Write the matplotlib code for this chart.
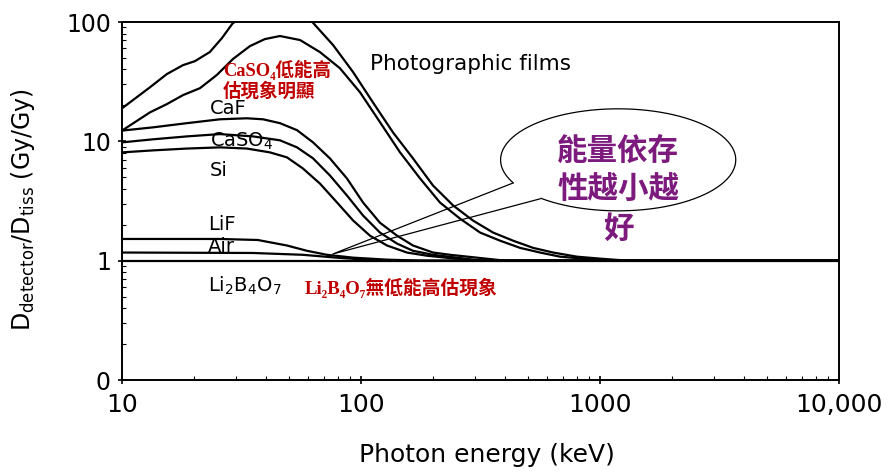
import numpy as np
import matplotlib
matplotlib.use("Agg")
import matplotlib.pyplot as plt
from matplotlib.ticker import FixedLocator, LogLocator, NullFormatter

# values (photon energy in keV, dose ratio)
films_e = [10, 13.1, 15.4, 18, 20.2, 23.3, 26.2, 29.1, 35, 45, 55, 62, 76.4, 92.7, 112, 136, 165, 200,
           243, 294, 357, 433, 525, 636, 801, 1000, 1300, 10000]
films_v = [18.9, 28.4, 36.6, 43.5, 47.0, 56.0, 73.4, 98, 118, 128, 120, 102, 64.1, 38.0, 21.3, 11.9, 7.2, 4.27,
           2.90, 2.17, 1.72, 1.47, 1.28, 1.17, 1.08, 1.04, 1.0, 1.0]

film2_e = [10, 13.1, 15.4, 18, 21.2, 24.9, 29.1, 34.3, 39.6, 45.8, 55.6, 67.3, 81.6, 99, 120, 145.6, 176.6,
           214, 259.6, 315, 382, 463, 561, 681, 849, 1100, 10000]
film2_v = [12.3, 17.5, 20.5, 24.4, 27.9, 35.9, 48.9, 62.8, 71.9, 76.3, 70.6, 56.0, 41.0, 25.8, 14.5, 8.09, 4.89,
           3.07, 2.25, 1.72, 1.47, 1.28, 1.17, 1.08, 1.04, 1.0, 1.0]

caf_e = [10, 13.5, 18.7, 25.7, 33.3, 38.9, 45.8, 54, 63, 74.1, 87.3, 102, 120, 141.5, 165, 200, 236, 400, 10000]
caf_v = [12.3, 13.1, 14.2, 15.3, 15.6, 15.3, 14.2, 12.4, 9.8, 7.2, 4.89, 3.07, 2.08, 1.62, 1.34, 1.17, 1.12, 1.0, 1.0]

caso4_e = [10, 13.5, 18.7, 25.7, 35.3, 45.8, 54, 63, 74.1, 87.3, 102, 120, 141.5, 165, 200, 320, 10000]
caso4_v = [9.8, 10.4, 11.0, 11.5, 11.0, 10.2, 8.9, 7.2, 5.18, 3.52, 2.39, 1.72, 1.39, 1.21, 1.12, 1.0, 1.0]

si_e = [10, 13.5, 18.7, 25.7, 33.3, 41.6, 49, 57.1, 67.3, 79.4, 92.7, 109, 128.5, 155.6, 189, 300, 10000]
si_v = [8.08, 8.4, 8.7, 8.9, 8.7, 8.08, 7.34, 5.93, 4.43, 3.07, 2.17, 1.62, 1.34, 1.17, 1.10, 1.0, 1.0]

lif_e = [10, 25.7, 37, 49, 59.4, 72, 92.7, 128, 180, 10000]
lif_v = [1.52, 1.52, 1.49, 1.34, 1.21, 1.12, 1.06, 1.02, 1.0, 1.0]

air_e = [10, 35.3, 57, 79, 120, 10000]
air_v = [1.17, 1.16, 1.12, 1.06, 1.0, 1.0]

lbo_e = [10, 10000]
lbo_v = [1.0, 1.0]

x_ticks = [10, 100, 1000, 10000]
x_labels = ["10", "100", "1000", "10,000"]
y_ticks = [0.1, 1, 10, 100]
y_labels = ["0", "1", "10", "100"]

CJK = ["Noto Sans CJK TC", "DejaVu Sans"]
RED_FONT = ["Liberation Serif", "DejaVu Serif", "Noto Sans CJK TC"]
RED = "#c00000"
PURPLE = "#7d1a7d"

fig = plt.figure(figsize=(8.9, 4.73), dpi=100)
ax = fig.add_axes([122 / 890, 1 - 380 / 473, 717 / 890, 358 / 473])

curves = [
    (films_e, films_v), (film2_e, film2_v), (caf_e, caf_v), (caso4_e, caso4_v),
    (si_e, si_v), (lif_e, lif_v), (air_e, air_v), (lbo_e, lbo_v),
]
for e, v in curves:
    ax.plot(e, v, color="black", lw=1.6, solid_joinstyle="round")

ax.set_xscale("log")
ax.set_yscale("log")
ax.set_xlim(10, 10000)
ax.set_ylim(0.1, 100)

ax.xaxis.set_major_locator(FixedLocator(x_ticks))
ax.set_xticklabels(x_labels)
ax.yaxis.set_major_locator(FixedLocator(y_ticks))
ax.set_yticklabels(y_labels)
ax.xaxis.set_minor_locator(LogLocator(base=10, subs=np.arange(2, 10)))
ax.yaxis.set_minor_locator(LogLocator(base=10, subs=np.arange(2, 10)))
ax.xaxis.set_minor_formatter(NullFormatter())
ax.yaxis.set_minor_formatter(NullFormatter())
ax.tick_params(axis="both", which="major", direction="inout", length=6, width=1.2)
ax.tick_params(axis="both", which="minor", direction="in", length=3, width=0.8)
ax.tick_params(axis="x", which="major", labelsize=18, pad=6)
ax.tick_params(axis="y", which="major", labelsize=17, pad=5)
for side in ax.spines.values():
    side.set_linewidth(1.4)

ax.set_xlabel("Photon energy (keV)", fontsize=18)
ax.xaxis.set_label_coords(0.509, -0.175)
ax.set_ylabel(r"D$_{\mathrm{detector}}$/D$_{\mathrm{tiss}}$ (Gy/Gy)", fontsize=17)
ax.yaxis.set_label_coords(-0.118, 0.475)

# curve labels
ax.text(0.346, 0.882, "Photographic films", transform=ax.transAxes, fontsize=15.5, va="center")
ax.text(0.123, 0.757, "CaF", transform=ax.transAxes, fontsize=14, va="center")
ax.text(0.123, 0.668, r"CaSO$_4$", transform=ax.transAxes, fontsize=14, va="center")
ax.text(0.123, 0.584, "Si", transform=ax.transAxes, fontsize=14, va="center")
ax.text(0.120, 0.433, "LiF", transform=ax.transAxes, fontsize=14, va="center")
ax.text(0.120, 0.374, "Air", transform=ax.transAxes, fontsize=14, va="center")
ax.text(0.120, 0.263, r"Li$_2$B$_4$O$_7$", transform=ax.transAxes, fontsize=14, va="center")

# red notes
ax.text(0.141, 0.837, "CaSO₄低能高\n估現象明顯", transform=ax.transAxes, fontsize=13.3,
        family=RED_FONT, weight="bold", color=RED, va="center", linespacing=1.2)
ax.text(0.255, 0.257, "Li₂B₄O₇無低能高估現象", transform=ax.transAxes, fontsize=13.5,
        family=RED_FONT, weight="bold", color=RED, va="center")

# speech bubble
cx, cy, rx, ry = 0.692, 0.615, 0.164, 0.1425
t = np.radians(np.linspace(229, 206.8 + 360, 300))
ax.plot(cx + rx * np.cos(t), cy + ry * np.sin(t), color="black", lw=0.9,
        transform=ax.transAxes, clip_on=False)
ax.plot([0.545, 0.294, 0.583], [0.550, 0.352, 0.506], color="black", lw=0.9,
        transform=ax.transAxes)
ax.text(0.692, 0.531, "能量依存\n性越小越\n好", transform=ax.transAxes, fontsize=22,
        family=CJK, weight="bold", color=PURPLE, ha="center", va="center", linespacing=1.3)

fig.savefig("out.png", dpi=100)
